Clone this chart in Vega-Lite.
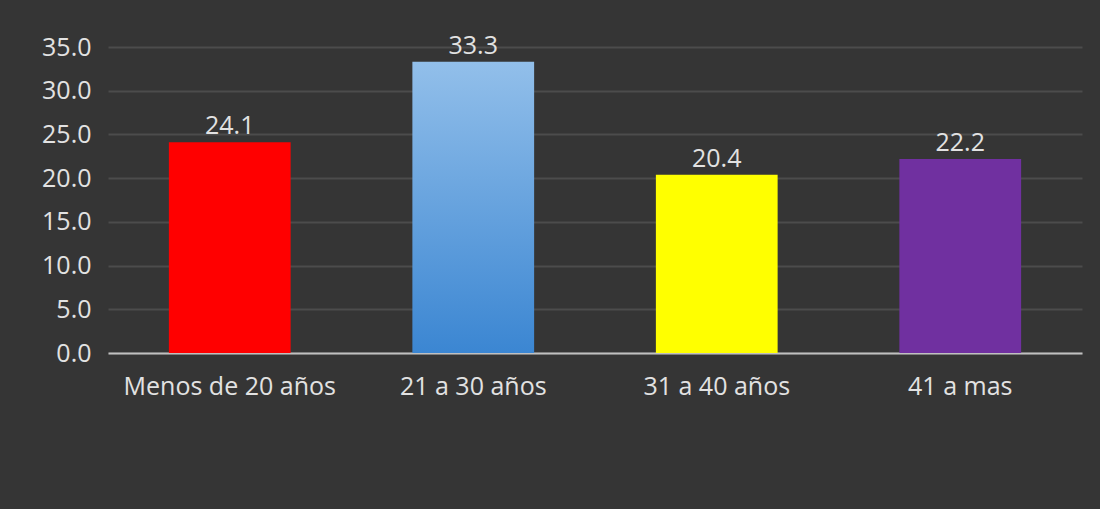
{
  "$schema": "https://vega.github.io/schema/vega-lite/v6.json",
  "autosize": "none",
  "width": 974,
  "height": 306,
  "padding": {"left": 108, "top": 47, "right": 18, "bottom": 156},
  "background": "#353535",
  "config": {
    "view": {"stroke": null},
    "font": "Open Sans",
    "axis": {"labelFont": "Open Sans", "labelColor": "#e2e2e2", "labelFontSize": 25, "labelLimit": 0}
  },
  "data": {
    "values": [
      {"grupo": "Menos de 20 años", "valor": 24.1},
      {"grupo": "21 a 30 años", "valor": 33.3},
      {"grupo": "31 a 40 años", "valor": 20.4},
      {"grupo": "41 a mas", "valor": 22.2}
    ]
  },
  "encoding": {
    "x": {
      "field": "grupo", "type": "nominal",
      "sort": ["Menos de 20 años", "21 a 30 años", "31 a 40 años", "41 a mas"],
      "scale": {"paddingInner": 0.5, "paddingOuter": 0.25},
      "axis": {"title": null, "labelAngle": 0, "labelPadding": 21, "ticks": false, "domainColor": "#c0c0c0", "domainWidth": 2}
    },
    "y": {
      "field": "valor", "type": "quantitative",
      "scale": {"domain": [0, 35], "nice": false},
      "axis": {"title": null, "values": [0, 5, 10, 15, 20, 25, 30, 35], "format": ".1f", "domain": false, "ticks": false, "labelPadding": 17, "gridColor": "#4c4c4c", "gridWidth": 2}
    }
  },
  "layer": [
    {
      "transform": [{"filter": "datum.grupo !== '21 a 30 años'"}],
      "mark": {"type": "bar"},
      "encoding": {
        "color": {
          "field": "grupo", "type": "nominal", "legend": null,
          "scale": {"domain": ["Menos de 20 años", "31 a 40 años", "41 a mas"], "range": ["#ff0000", "#ffff00", "#7030a0"]}
        }
      }
    },
    {
      "transform": [{"filter": "datum.grupo === '21 a 30 años'"}],
      "mark": {
        "type": "bar",
        "color": {
          "gradient": "linear", "x1": 0, "y1": 0, "x2": 0, "y2": 1,
          "stops": [{"offset": 0, "color": "#92bfea"}, {"offset": 1, "color": "#3b86d2"}]
        }
      }
    },
    {
      "mark": {"type": "text", "baseline": "alphabetic", "dy": -8, "fontSize": 25, "color": "#e2e2e2", "font": "Open Sans"},
      "encoding": {"text": {"field": "valor", "type": "quantitative", "format": ".1f"}}
    }
  ]
}
